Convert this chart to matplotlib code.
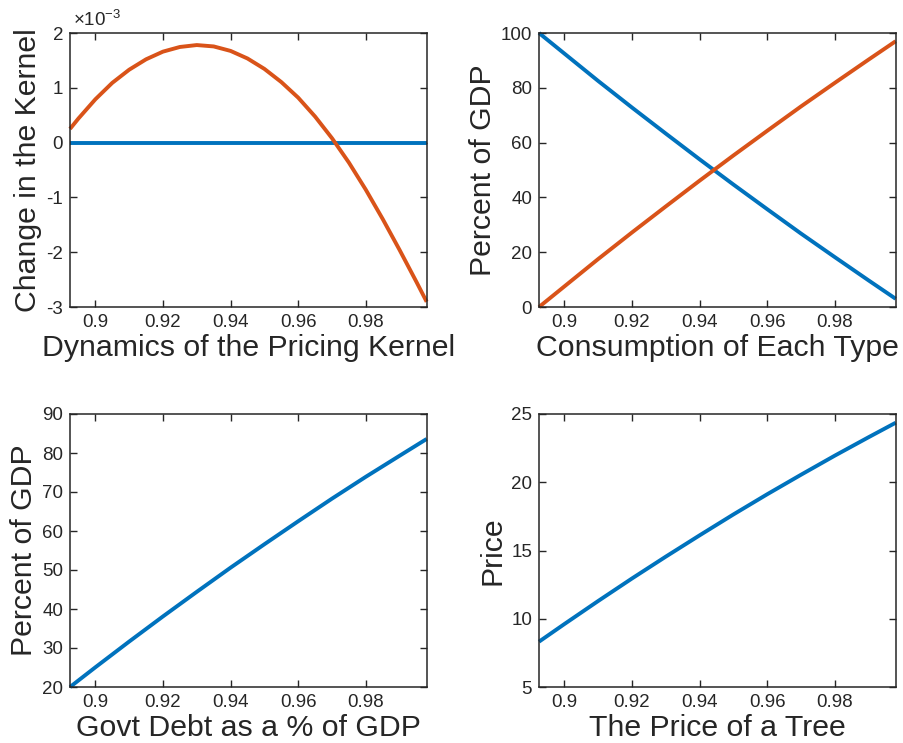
import matplotlib
matplotlib.use("Agg")
import matplotlib.pyplot as plt
from matplotlib.ticker import FixedLocator, FuncFormatter

plt.rcParams['font.family'] = ['Liberation Sans', 'DejaVu Sans']
plt.rcParams['axes.unicode_minus'] = False
plt.rcParams['mathtext.fontset'] = 'custom'
plt.rcParams['mathtext.rm'] = 'Liberation Sans'
plt.rcParams['mathtext.it'] = 'Liberation Sans'

BLUE = '#0072BD'
ORANGE = '#D95319'
TXT = '#262626'

# ---------- data ----------
x_kernel = [0.8925, 0.895, 0.90, 0.905, 0.91, 0.915, 0.92, 0.925, 0.93, 0.935, 0.94, 0.945,
            0.95, 0.955, 0.96, 0.965, 0.97, 0.975, 0.98, 0.985, 0.99, 0.995, 0.998]
kernel_base = [0.0] * len(x_kernel)
kernel_change = [0.25e-3, 0.44e-3, 0.79e-3, 1.09e-3, 1.33e-3, 1.52e-3, 1.66e-3, 1.745e-3, 1.78e-3,
                 1.755e-3, 1.673e-3, 1.535e-3, 1.345e-3, 1.105e-3, 0.82e-3, 0.475e-3, 0.08e-3,
                 -0.365e-3, -0.86e-3, -1.395e-3, -1.96e-3, -2.545e-3, -2.905e-3]

x_grid = [0.8925, 0.90, 0.91, 0.92, 0.93, 0.94, 0.95, 0.96, 0.97, 0.98, 0.99, 0.998]
cons_type1 = [100.0, 92.5, 82.5, 72.8, 63.3, 53.9, 44.7, 35.7, 26.8, 18.2, 9.7, 3.0]
cons_type2 = [0.0, 7.5, 17.5, 27.2, 36.7, 46.1, 55.3, 64.3, 73.2, 81.8, 90.3, 97.0]
govt_debt = [20.0, 25.05, 31.65, 38.1, 44.4, 50.6, 56.6, 62.5, 68.3, 73.9, 79.3, 83.6]
tree_price = [8.32, 9.61, 11.30, 12.95, 14.55, 16.11, 17.64, 19.12, 20.55, 21.95, 23.30, 24.36]

x_ticks = [0.90, 0.92, 0.94, 0.96, 0.98]
x_lim = (0.8925, 0.9981)

fig = plt.figure(figsize=(9.04, 7.43), dpi=100)
W = 357 / 904
H_top = 274 / 743
H_bot = 273 / 743
ax1 = fig.add_axes([70 / 904, (743 - 307) / 743, W, H_top])
ax2 = fig.add_axes([539 / 904, (743 - 307) / 743, W, H_top])
ax3 = fig.add_axes([70 / 904, (743 - 687) / 743, W, H_bot])
ax4 = fig.add_axes([539 / 904, (743 - 687) / 743, W, H_bot])

LW = 2.8
TICK_FS = 13.5
LABEL_FS = 21.8


def style(ax, xlabel, ylabel, yticks, ylim):
    ax.set_xlim(*x_lim)
    ax.set_ylim(*ylim)
    ax.xaxis.set_major_locator(FixedLocator(x_ticks))
    ax.xaxis.set_major_formatter(FuncFormatter(lambda v, p: ('%g' % round(v, 4))))
    ax.yaxis.set_major_locator(FixedLocator(yticks))
    ax.tick_params(direction='in', length=5, width=1.0, colors=TXT, labelsize=TICK_FS,
                   top=True, right=True, pad=5)
    for s in ax.spines.values():
        s.set_color(TXT)
        s.set_linewidth(1.1)
    ax.set_xlabel(xlabel, fontsize=LABEL_FS, color=TXT, labelpad=2)
    ax.set_ylabel(ylabel, fontsize=LABEL_FS, color=TXT, labelpad=3)


# Panel 1
ax1.plot(x_kernel, kernel_base, color=BLUE, lw=LW)
ax1.plot(x_kernel, kernel_change, color=ORANGE, lw=LW)
style(ax1, 'Dynamics of the Pricing Kernel', 'Change in the Kernel',
      [-3e-3, -2e-3, -1e-3, 0, 1e-3, 2e-3], (-3e-3, 2e-3))
ax1.yaxis.set_major_formatter(FuncFormatter(lambda v, p: '%g' % round(v * 1e3, 4)))
ax1.text(0.008, 1.012, r'$\times10^{-3}$', transform=ax1.transAxes, fontsize=13.5,
         color=TXT, ha='left', va='bottom')

# Panel 2
ax2.plot(x_grid, cons_type1, color=BLUE, lw=LW)
ax2.plot(x_grid, cons_type2, color=ORANGE, lw=LW)
style(ax2, 'Consumption of Each Type', 'Percent of GDP',
      [0, 20, 40, 60, 80, 100], (0, 100))

# Panel 3
ax3.plot(x_grid, govt_debt, color=BLUE, lw=LW)
style(ax3, 'Govt Debt as a % of GDP', 'Percent of GDP',
      [20, 30, 40, 50, 60, 70, 80, 90], (20, 90))

# Panel 4
ax4.plot(x_grid, tree_price, color=BLUE, lw=LW)
style(ax4, 'The Price of a Tree', 'Price',
      [5, 10, 15, 20, 25], (5, 25))

for ax in (ax1, ax2, ax3, ax4):
    for ln in ax.lines:
        ln.set_clip_on(False)
        ln.set_solid_capstyle('butt')
        ln.set_solid_joinstyle('round')

fig.savefig('out.png', dpi=100)
